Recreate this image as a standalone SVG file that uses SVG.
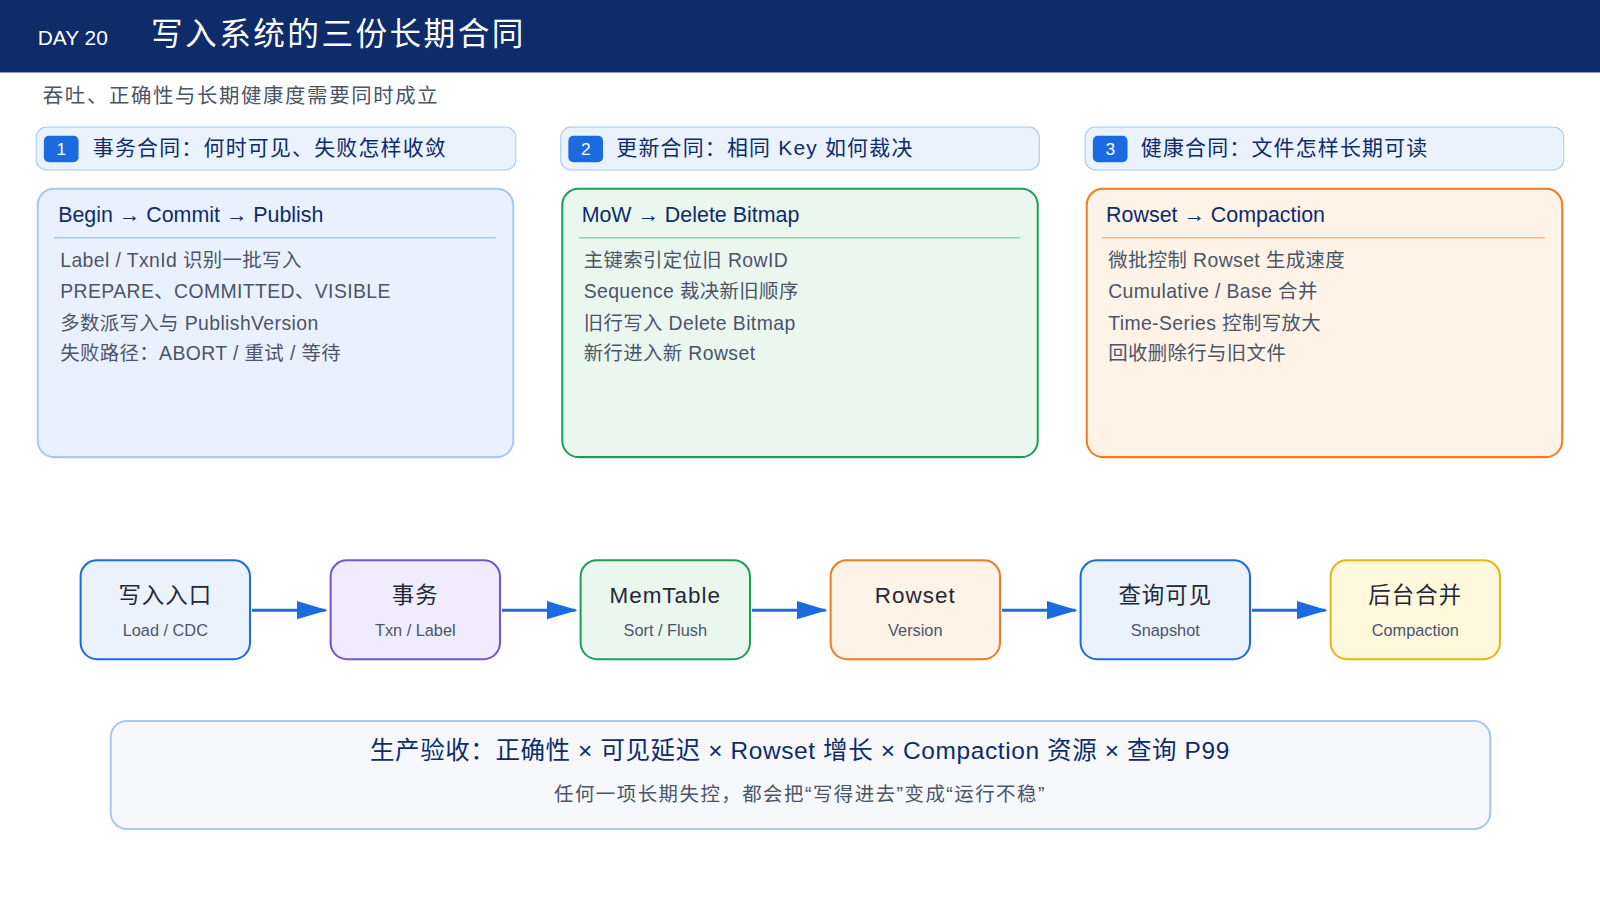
<svg xmlns="http://www.w3.org/2000/svg" width="1600" height="900" viewBox="0 0 1600 900">
<defs>
<style>
text{font-family:"Liberation Sans","Noto Sans CJK SC",sans-serif}
.hd{fill:#0d2c6b;font-size:20.5px;letter-spacing:1.2px}
.ct{fill:#0d2c6b;font-size:21px}
.it{fill:#4a5568;font-size:19px;letter-spacing:0.4px}
.nt{fill:#1f2937;font-size:22px;text-anchor:middle;letter-spacing:1px}
.ns{fill:#4a5568;font-size:16px;text-anchor:middle}
.conn{stroke:#1a6be0;stroke-width:3;fill:none}
</style>
<marker id="ar" markerWidth="30" markerHeight="20" refX="28" refY="10" orient="auto" markerUnits="userSpaceOnUse" viewBox="0 0 30 20"><path d="M0,1 L30,10 L0,19 z" fill="#1a6be0"/></marker>
</defs>
<rect width="1600" height="900" fill="#fff"/>
<g transform="scale(1.0204)">
<g id="header">
<rect x="0" y="0" width="1568" height="71" fill="#0d2c69"/>
<text x="37" y="44" fill="#fff" font-size="20.5">DAY 20</text>
<text x="148" y="44" fill="#fff" font-size="31" letter-spacing="2.4">写入系统的三份长期合同</text>
<text x="42" y="101" fill="#4a5568" font-size="20" letter-spacing="1.6">吞吐、正确性与长期健康度需要同时成立</text>
</g>
<g id="card1">
<rect x="35.5" y="124.5" width="470" height="42" rx="10" fill="#eaf2fe" stroke="#a9c7f2"/>
<rect x="43" y="133" width="34" height="26" rx="5" fill="#1a6be0"/>
<text x="60" y="152" fill="#fff" font-size="17" text-anchor="middle">1</text>
<text x="91" y="152" class="hd">事务合同：何时可见、失败怎样收敛</text>
<rect x="37" y="185" width="466" height="263" rx="16" fill="#eaf1fe" stroke="#a9c7f2" stroke-width="2"/>
<text x="57" y="218" class="ct">Begin → Commit → Publish</text>
<line x1="53" y1="233" x2="486" y2="233" stroke="#a9c7f2" stroke-width="1.5"/>
<text x="59" y="262" class="it">Label / TxnId 识别一批写入</text>
<text x="59" y="292" class="it">PREPARE、COMMITTED、VISIBLE</text>
<text x="59" y="323" class="it">多数派写入与 PublishVersion</text>
<text x="59" y="353" class="it">失败路径：ABORT / 重试 / 等待</text>
</g>
<g id="card2">
<rect x="549.5" y="124.5" width="469" height="42" rx="10" fill="#eaf2fe" stroke="#a9c7f2"/>
<rect x="557" y="133" width="34" height="26" rx="5" fill="#1a6be0"/>
<text x="574" y="152" fill="#fff" font-size="17" text-anchor="middle">2</text>
<text x="604" y="152" class="hd">更新合同：相同 Key 如何裁决</text>
<rect x="551" y="185" width="466" height="263" rx="16" fill="#eaf7ef" stroke="#1f9e5a" stroke-width="2"/>
<text x="570" y="218" class="ct">MoW → Delete Bitmap</text>
<line x1="567" y1="233" x2="1000" y2="233" stroke="#8fd0ac" stroke-width="1.5"/>
<text x="572" y="262" class="it">主键索引定位旧 RowID</text>
<text x="572" y="292" class="it">Sequence 裁决新旧顺序</text>
<text x="572" y="323" class="it">旧行写入 Delete Bitmap</text>
<text x="572" y="353" class="it">新行进入新 Rowset</text>
</g>
<g id="card3">
<rect x="1063.5" y="124.5" width="469" height="42" rx="10" fill="#eaf2fe" stroke="#a9c7f2"/>
<rect x="1071" y="133" width="34" height="26" rx="5" fill="#1a6be0"/>
<text x="1088" y="152" fill="#fff" font-size="17" text-anchor="middle">3</text>
<text x="1118" y="152" class="hd">健康合同：文件怎样长期可读</text>
<rect x="1065" y="185" width="466" height="263" rx="16" fill="#fff2e6" stroke="#f07c1e" stroke-width="2"/>
<text x="1084" y="218" class="ct">Rowset → Compaction</text>
<line x1="1080" y1="233" x2="1514" y2="233" stroke="#f5b887" stroke-width="1.5"/>
<text x="1086" y="262" class="it">微批控制 Rowset 生成速度</text>
<text x="1086" y="292" class="it">Cumulative / Base 合并</text>
<text x="1086" y="323" class="it">Time-Series 控制写放大</text>
<text x="1086" y="353" class="it">回收删除行与旧文件</text>
</g>
<g id="n1"><rect x="79" y="549" width="166" height="97" rx="16" fill="#eaf2fe" stroke="#1a6be0" stroke-width="2"/><text x="162" y="591" class="nt">写入入口</text><text x="162" y="623" class="ns">Load / CDC</text></g>
<g id="n2"><rect x="324" y="549" width="166" height="97" rx="16" fill="#f0ecfd" stroke="#7553d8" stroke-width="2"/><text x="407" y="591" class="nt">事务</text><text x="407" y="623" class="ns">Txn / Label</text></g>
<g id="n3"><rect x="569" y="549" width="166" height="97" rx="16" fill="#eaf7ef" stroke="#1f9e5a" stroke-width="2"/><text x="652" y="591" class="nt">MemTable</text><text x="652" y="623" class="ns">Sort / Flush</text></g>
<g id="n4"><rect x="814" y="549" width="166" height="97" rx="16" fill="#fff2e6" stroke="#f07c1e" stroke-width="2"/><text x="897" y="591" class="nt">Rowset</text><text x="897" y="623" class="ns">Version</text></g>
<g id="n5"><rect x="1059" y="549" width="166" height="97" rx="16" fill="#eaf2fe" stroke="#1a6be0" stroke-width="2"/><text x="1142" y="591" class="nt">查询可见</text><text x="1142" y="623" class="ns">Snapshot</text></g>
<g id="n6"><rect x="1304" y="549" width="166" height="97" rx="16" fill="#fff8dc" stroke="#e8b40f" stroke-width="2"/><text x="1387" y="591" class="nt">后台合并</text><text x="1387" y="623" class="ns">Compaction</text></g>
<g id="connectors">
<line x1="247" y1="598" x2="319" y2="598" class="conn" marker-end="url(#ar)"/>
<line x1="492" y1="598" x2="564" y2="598" class="conn" marker-end="url(#ar)"/>
<line x1="737" y1="598" x2="809" y2="598" class="conn" marker-end="url(#ar)"/>
<line x1="982" y1="598" x2="1054" y2="598" class="conn" marker-end="url(#ar)"/>
<line x1="1227" y1="598" x2="1299" y2="598" class="conn" marker-end="url(#ar)"/>
</g>
<g id="summary">
<rect x="108.5" y="706.5" width="1352" height="106" rx="16" fill="#f6f8fc" stroke="#a9c7f2" stroke-width="2"/>
<text x="784" y="744" fill="#0d2c6b" font-size="24" text-anchor="middle" letter-spacing="0.6">生产验收：正确性 × 可见延迟 × Rowset 增长 × Compaction 资源 × 查询 P99</text>
<text x="784" y="785" fill="#4a5568" font-size="19" text-anchor="middle" letter-spacing="1.5">任何一项长期失控，都会把“写得进去”变成“运行不稳”</text>
</g>
</g>
</svg>
